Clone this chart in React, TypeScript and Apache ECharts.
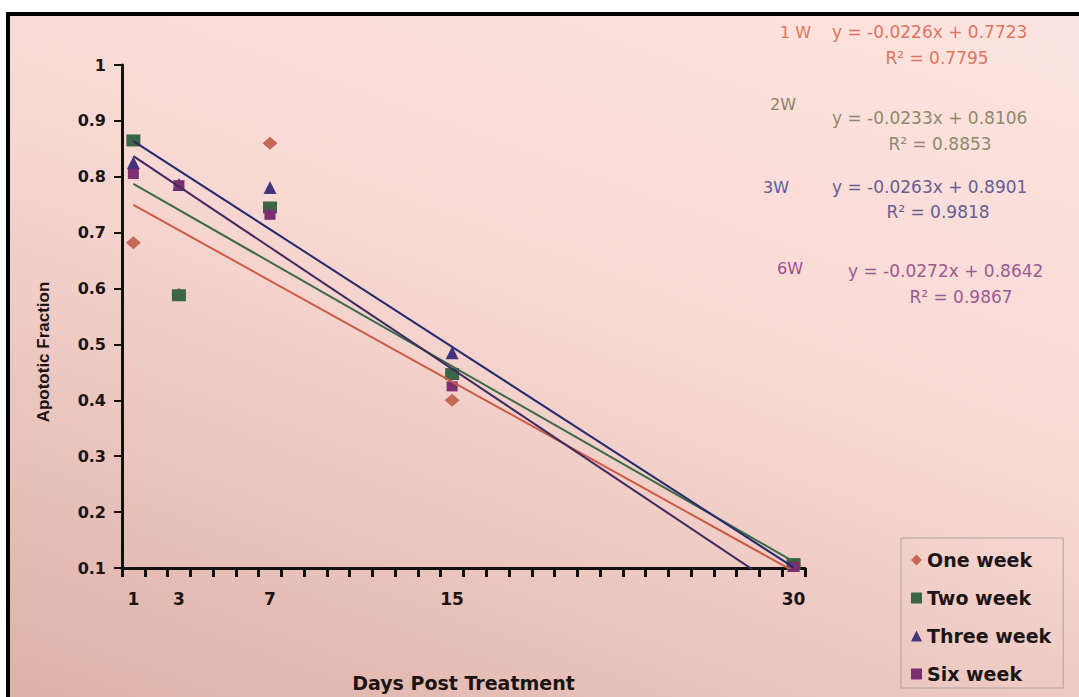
import React, { useEffect, useRef } from "react";
import * as echarts from "echarts";

const dayCategories = Array.from({ length: 30 }, (_, i) => String(i + 1));
const labelDays = ["1", "3", "7", "15", "30"];
const days = [1, 3, 7, 15, 30];

const oneWeek = [0.682, 0.59, 0.86, 0.4, 0.105];
const twoWeek = [0.865, 0.588, 0.745, 0.447, 0.107];
const threeWeek = [0.825, 0.786, 0.781, 0.485, 0.105];
const sixWeek = [0.805, 0.785, 0.732, 0.425, 0.102];

const seriesNames = ["One week", "Two week", "Three week", "Six week"];
const slopes = [-0.0226, -0.0233, -0.0263, -0.0272];
const intercepts = [0.7723, 0.8106, 0.8901, 0.8642];
const rSquared = ["0.7795", "0.8853", "0.9818", "0.9867"];
const shortNames = ["1 W", "2W", "3W", "6W"];
const trendRange = [1, 30];

const yTicksMin = 0.1;
const yTicksMax = 1;

export default function App() {
  const ref = useRef<HTMLDivElement>(null);

  useEffect(() => {
    if (!ref.current) return;
    const chart = echarts.init(ref.current, null, { renderer: "svg" });

    const values = [oneWeek, twoWeek, threeWeek, sixWeek];
    const markerColors = ["#c26a56", "#3c6446", "#43347e", "#7c2f70"];
    const lineColors = ["#cc5a44", "#3a6a48", "#262a6c", "#3e2a5e"];
    const symbols = ["diamond", "rect", "triangle", "rect"];
    const sizes: any[] = [[15, 13], [14, 12], [13, 13], [11, 10]];
    const labelColors = ["#e2735c", "#8c8262", "#5c5a9c", "#9c4c98"];
    const eqColors = ["#e07560", "#8e8a6a", "#665e92", "#9c5a92"];

    const scatterSeries = seriesNames.map((name, k) => ({
      name,
      type: "scatter",
      xAxisIndex: 1,
      data: days.map((d, i) => [d, values[k][i]]),
      symbol: symbols[k],
      symbolSize: sizes[k],
      itemStyle: { color: markerColors[k], opacity: 1 },
      z: 3,
      silent: true,
    }));

    const trendSeries = seriesNames.map((name, k) => ({
      name: name + " trend",
      type: "line",
      xAxisIndex: 1,
      data: trendRange.map((x) => [x, intercepts[k] + slopes[k] * x]),
      showSymbol: false,
      symbol: "none",
      lineStyle: { color: lineColors[k], width: 2 },
      clip: true,
      silent: true,
      z: 4,
    }));

    const eqRows = [
      { labelX: 780, labelY: 32, eqX: 832, eqY: 32, rX: 937, rY: 58 },
      { labelX: 770, labelY: 104, eqX: 832, eqY: 118, rX: 940, rY: 144 },
      { labelX: 763, labelY: 187, eqX: 832, eqY: 187, rX: 938, rY: 212 },
      { labelX: 777, labelY: 268, eqX: 848, eqY: 271, rX: 961, rY: 297 },
    ];

    const graphicTexts: any[] = [];
    eqRows.forEach((r, k) => {
      graphicTexts.push({
        type: "text",
        x: r.labelX,
        y: r.labelY,
        style: {
          text: shortNames[k],
          fill: labelColors[k],
          fontFamily: "DejaVu Sans",
          fontSize: 16,
          textAlign: "left",
          textVerticalAlign: "middle",
        },
      });
      graphicTexts.push({
        type: "text",
        x: r.eqX,
        y: r.eqY,
        style: {
          text: "y = -" + Math.abs(slopes[k]).toFixed(4) + "x + " + intercepts[k].toFixed(4),
          fill: eqColors[k],
          fontFamily: "DejaVu Sans",
          fontSize: 17,
          textAlign: "left",
          textVerticalAlign: "middle",
        },
      });
      graphicTexts.push({
        type: "text",
        x: r.rX,
        y: r.rY,
        style: {
          text: "R\u00b2 = " + rSquared[k],
          fill: eqColors[k],
          fontFamily: "DejaVu Sans",
          fontSize: 17,
          textAlign: "center",
          textVerticalAlign: "middle",
        },
      });
    });
    graphicTexts.push({
      type: "text",
      x: 43,
      y: 352,
      rotation: Math.PI / 2,
      style: {
        text: "Apototic Fraction",
        fill: "#1c1414",
        fontFamily: "Liberation Sans",
        fontWeight: "bold",
        fontSize: 17,
        textAlign: "center",
        textVerticalAlign: "middle",
      },
    });

    chart.setOption({
      animation: false,
      backgroundColor: "transparent",
      grid: { left: 122, right: 274, top: 65, bottom: 119, containLabel: false },
      xAxis: [
        {
          type: "category",
          data: dayCategories,
          boundaryGap: true,
          position: "bottom",
          axisLine: { show: true, lineStyle: { color: "#111", width: 3 } },
          axisTick: { show: true, interval: 0, length: 9, lineStyle: { color: "#111", width: 3 } },
          axisLabel: {
            interval: (i: number, v: string) => labelDays.includes(v),
            margin: 22,
            color: "#1c1414",
            fontFamily: "DejaVu Sans",
            fontWeight: "bold",
            fontSize: 17,
          },
          splitLine: { show: false },
          name: "Days Post Treatment",
          nameLocation: "middle",
          nameGap: 105,
          nameTextStyle: {
            color: "#1c1414",
            fontFamily: "DejaVu Sans",
            fontWeight: "bold",
            fontSize: 19,
          },
        },
        {
          type: "value",
          min: 0.5,
          max: 30.5,
          show: false,
          splitLine: { show: false },
        },
      ],
      yAxis: {
        type: "value",
        min: yTicksMin,
        max: yTicksMax,
        interval: 0.1,
        axisLine: { show: true, onZero: false, lineStyle: { color: "#111", width: 3 } },
        axisTick: { show: true, length: 8, lineStyle: { color: "#111", width: 2 } },
        axisLabel: {
          margin: 16,
          color: "#1c1414",
          fontFamily: "DejaVu Sans",
          fontWeight: "bold",
          fontSize: 16,
          formatter: (v: number) => String(Math.round(v * 10) / 10),
        },
        splitLine: { show: false },
      },
      legend: {
        data: [
          { name: "One week", icon: "diamond" },
          { name: "Two week", icon: "rect" },
          { name: "Three week", icon: "triangle" },
          { name: "Six week", icon: "rect" },
        ],
        orient: "vertical",
        left: 901,
        top: 538,
        itemWidth: 11,
        itemHeight: 11,
        itemGap: 18,
        padding: [12, 12, 4, 10],
        borderColor: "#b0a0a0",
        borderWidth: 1,
        textStyle: {
          color: "#1e1616",
          fontFamily: "DejaVu Sans",
          fontWeight: "bold",
          fontSize: 19,
          lineHeight: 20,
        },
        selectedMode: false,
      },
      graphic: graphicTexts,
      series: [...trendSeries, ...scatterSeries],
    });

    return () => chart.dispose();
  }, []);

  return (
    <div
      style={{
        position: "fixed",
        left: 0,
        top: 0,
        width: 1079,
        height: 697,
        background: "#ffffff",
        overflow: "hidden",
      }}
    >
      <div
        style={{
          position: "absolute",
          left: 6,
          top: 12,
          width: 1073,
          height: 685,
          boxSizing: "border-box",
          borderTop: "4px solid #000",
          borderLeft: "4px solid #000",
          background: "linear-gradient(200deg, #fde4e0 0%, #f8d8d3 45%, #dcb1a8 100%)",
        }}
      />
      <div ref={ref} style={{ position: "absolute", left: 0, top: 0, width: 1079, height: 697 }} />
    </div>
  );
}
